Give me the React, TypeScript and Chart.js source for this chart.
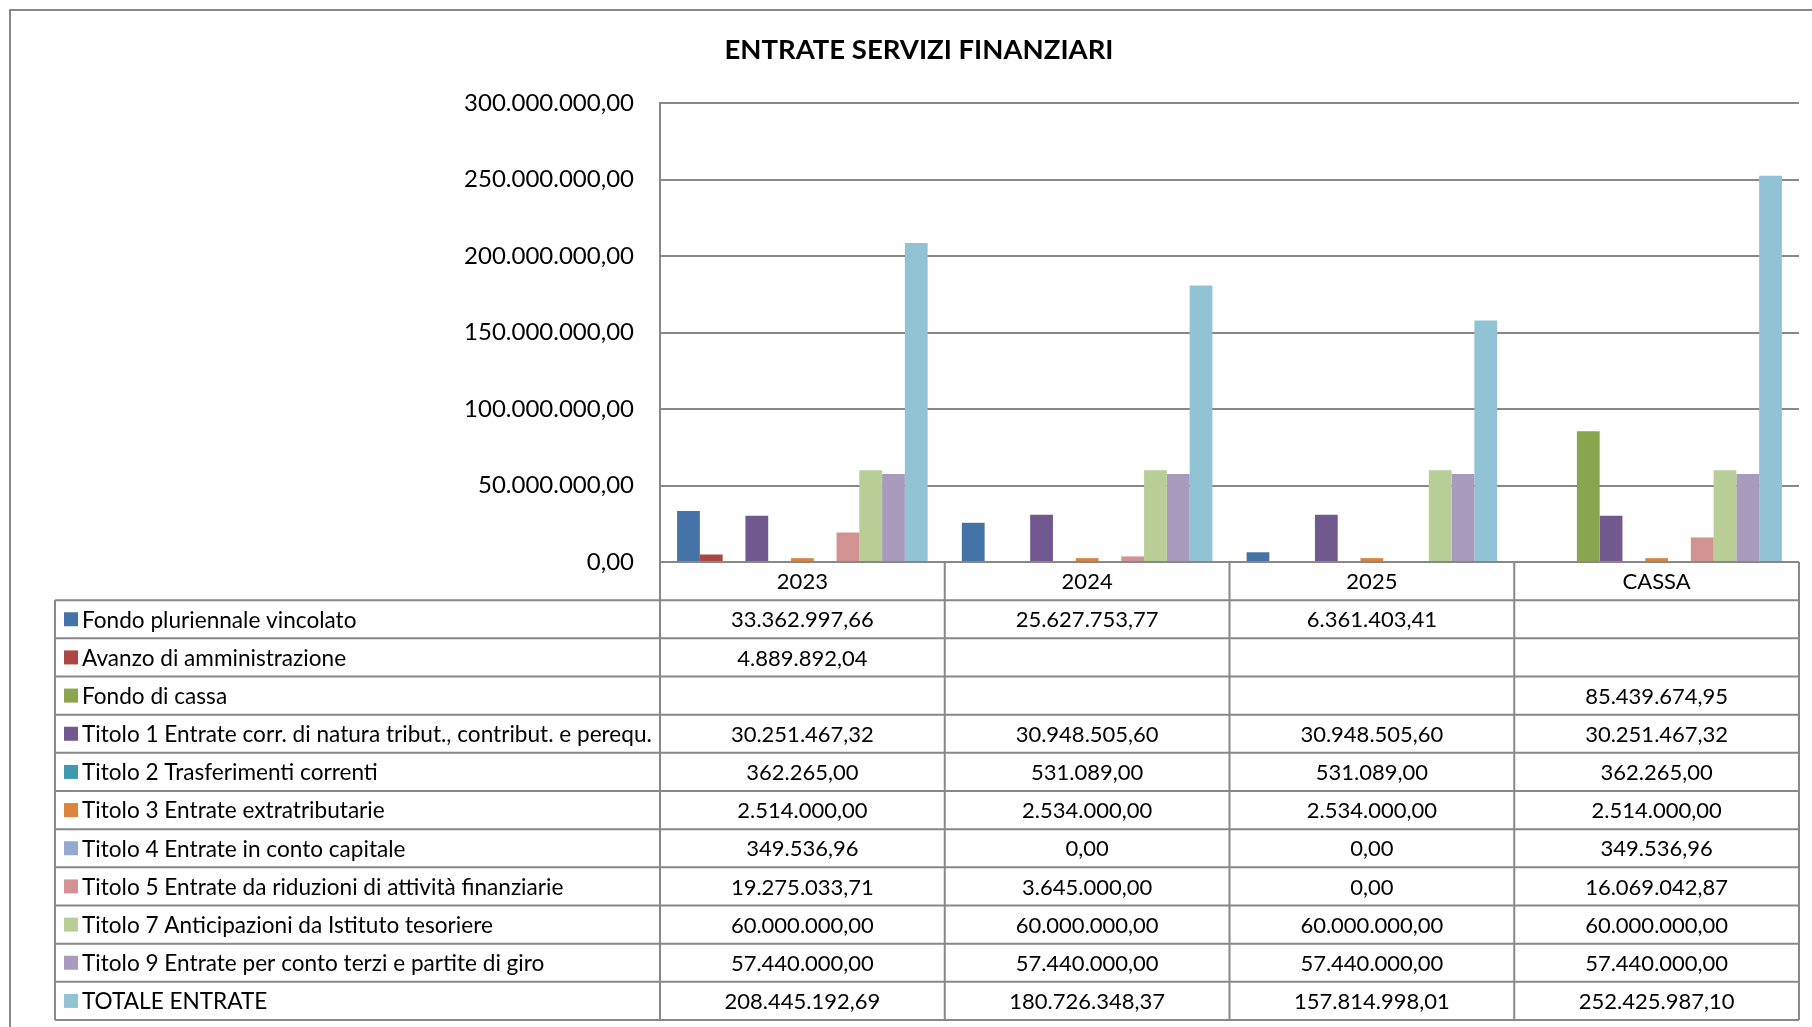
import React, { useEffect, useRef } from 'react';
import { Chart, registerables } from 'chart.js';

Chart.register(...registerables);

const chartTitle = 'ENTRATE SERVIZI FINANZIARI';
const categories = ['2023', '2024', '2025', 'CASSA'];

const seriesNames = [
  'Fondo pluriennale vincolato',
  'Avanzo di amministrazione',
  'Fondo di cassa',
  'Titolo 1 Entrate corr. di natura tribut., contribut. e perequ.',
  'Titolo 2 Trasferimenti correnti',
  'Titolo 3 Entrate extratributarie',
  'Titolo 4 Entrate in conto capitale',
  'Titolo 5 Entrate da riduzioni di attività finanziarie',
  'Titolo 7 Anticipazioni da Istituto tesoriere',
  'Titolo 9 Entrate per conto terzi e partite di giro',
  'TOTALE ENTRATE',
];

const seriesColors = [
  '#4572A7', '#AA4643', '#89A54E', '#71588F', '#4198AF', '#DB843D',
  '#93A9CF', '#D19392', '#B9CD96', '#A99BBD', '#92C3D5',
];

const fondoPluriennale = [33362997.66, 25627753.77, 6361403.41, null];
const avanzoAmministrazione = [4889892.04, null, null, null];
const fondoCassa = [null, null, null, 85439674.95];
const titolo1 = [30251467.32, 30948505.6, 30948505.6, 30251467.32];
const titolo2 = [362265.0, 531089.0, 531089.0, 362265.0];
const titolo3 = [2514000.0, 2534000.0, 2534000.0, 2514000.0];
const titolo4 = [349536.96, 0, 0, 349536.96];
const titolo5 = [19275033.71, 3645000.0, 0, 16069042.87];
const titolo7 = [60000000.0, 60000000.0, 60000000.0, 60000000.0];
const titolo9 = [57440000.0, 57440000.0, 57440000.0, 57440000.0];
const totaleEntrate = [208445192.69, 180726348.37, 157814998.01, 252425987.1];

const seriesValues: (number | null)[][] = [
  fondoPluriennale, avanzoAmministrazione, fondoCassa, titolo1, titolo2, titolo3,
  titolo4, titolo5, titolo7, titolo9, totaleEntrate,
];

const yMin = 0;
const yMax = 300000000;
const yStep = 50000000;

const LINE = '#888888';
const FONT = 'Lato';

function fmtIt(v: number | null | undefined): string {
  if (v === null || v === undefined) return '';
  const neg = v < 0;
  const [i, d] = Math.abs(v).toFixed(2).split('.');
  const ii = i.replace(/\B(?=(\d{3})+(?!\d))/g, '.');
  return (neg ? '-' : '') + ii + ',' + d;
}

const framePlugin = {
  id: 'frame',
  beforeDraw(chart: any) {
    const ctx = chart.ctx;
    ctx.save();
    ctx.fillStyle = '#ffffff';
    ctx.fillRect(0, 0, chart.width, chart.height);
    ctx.strokeStyle = LINE;
    ctx.lineWidth = 2;
    ctx.beginPath();
    ctx.moveTo(10, chart.height + 5);
    ctx.lineTo(10, 10);
    ctx.lineTo(chart.width + 5, 10);
    ctx.stroke();
    ctx.restore();
  },
};

const tablePlugin = {
  id: 'dataTable',
  afterDraw(chart: any) {
    const ctx = chart.ctx;
    const xs = chart.scales.x;
    const area = chart.chartArea;
    const left = area.left;
    const right = area.right;
    const catW = (right - left) / categories.length;
    const top = area.bottom;
    const nRows = seriesNames.length;
    const rowH = (1020 - top) / (nRows + 1);
    const labelLeft = 55;
    const bottom = top + rowH * (nRows + 1);

    ctx.save();
    ctx.strokeStyle = LINE;
    ctx.lineWidth = 2;
    ctx.beginPath();
    ctx.moveTo(left, top);
    ctx.lineTo(right, top);
    for (let r = 1; r <= nRows + 1; r++) {
      const y = top + r * rowH;
      ctx.moveTo(labelLeft, y);
      ctx.lineTo(right, y);
    }
    ctx.moveTo(labelLeft, top + rowH);
    ctx.lineTo(labelLeft, bottom);
    for (let c = 0; c <= categories.length; c++) {
      const xx = left + c * catW;
      ctx.moveTo(xx, top);
      ctx.lineTo(xx, bottom);
    }
    ctx.stroke();

    ctx.fillStyle = '#000000';
    ctx.font = `22px ${FONT}`;
    ctx.textBaseline = 'middle';
    ctx.textAlign = 'center';
    categories.forEach((cat, i) => {
      ctx.fillText(cat, xs.getPixelForValue(i), top + rowH / 2 + 1);
    });

    for (let r = 0; r < nRows; r++) {
      const yc = top + (r + 1) * rowH + rowH / 2;
      ctx.fillStyle = seriesColors[r];
      ctx.fillRect(64, yc - 7, 14, 14);
      ctx.fillStyle = '#000000';
      ctx.textAlign = 'left';
      ctx.font = `22.6px ${FONT}`;
      ctx.fillText(seriesNames[r], 82, yc + 1);
      ctx.textAlign = 'center';
      ctx.font = `22px ${FONT}`;
      seriesValues[r].forEach((v, i) => {
        const s = fmtIt(v);
        if (s) ctx.fillText(s, xs.getPixelForValue(i), yc + 1);
      });
    }
    ctx.restore();
  },
};

export default function App() {
  const ref = useRef<HTMLCanvasElement | null>(null);

  useEffect(() => {
    if (!ref.current) return;
    const chart = new Chart(ref.current, {
      type: 'bar',
      data: {
        labels: categories,
        datasets: seriesNames.map((name, i) => ({
          label: name,
          data: seriesValues[i],
          backgroundColor: seriesColors[i],
          borderWidth: 0,
          categoryPercentage: 0.88,
          barPercentage: 1,
        })),
      },
      options: {
        animation: false,
        responsive: false,
        devicePixelRatio: 1,
        layout: { padding: { left: 39, right: 13, top: 0, bottom: 0 } },
        plugins: {
          legend: { display: false },
          tooltip: { enabled: false },
          title: {
            display: true,
            text: chartTitle,
            color: '#000000',
            font: { family: FONT, size: 27.5, weight: 'bold', lineHeight: 1.2 },
            padding: { top: 34, bottom: 36 },
          },
        },
        scales: {
          x: {
            grid: { display: false },
            border: { display: false },
            ticks: { display: false },
            afterFit: (s: any) => {
              s.height = 1027 - 562;
            },
          },
          y: {
            min: yMin,
            max: yMax,
            ticks: {
              stepSize: yStep,
              callback: (v: any) => fmtIt(Number(v)),
              color: '#000000',
              font: { family: FONT, size: 24 },
              padding: 26,
            },
            grid: { color: LINE, lineWidth: 2, drawTicks: false },
            border: { display: true, color: LINE, width: 2 },
            afterFit: (s: any) => {
              s.width = 621;
            },
          },
        },
      } as any,
      plugins: [framePlugin, tablePlugin],
    });
    return () => chart.destroy();
  }, []);

  return (
    <div style={{ position: 'fixed', left: 0, top: 0, width: 1812, height: 1027, background: '#fff' }}>
      <canvas ref={ref} width={1812} height={1027} style={{ display: 'block', width: 1812, height: 1027 }} />
    </div>
  );
}
